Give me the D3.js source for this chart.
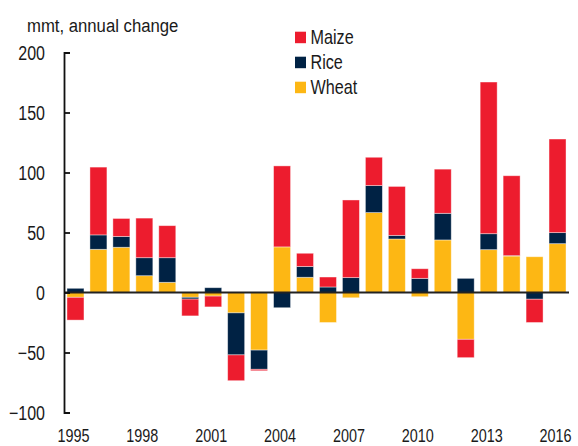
<!DOCTYPE html>
<html>
<head>
<meta charset="utf-8">
<script src="https://cdn.jsdelivr.net/npm/d3@7"></script>
<style>
  html, body { margin: 0; padding: 0; background: #fff; }
  svg text { font-family: "Liberation Sans", Arial, sans-serif; fill: #1a1a1a; }
</style>
</head>
<body>
<svg id="chart" width="578" height="446"></svg>
<script>
const years = [1995,1996,1997,1998,1999,2000,2001,2002,2003,2004,2005,2006,2007,2008,2009,2010,2011,2012,2013,2014,2015,2016];
const wheat = [-4, 36, 37.7, 14, 8.5, -4, -3, -17, -48, 38, 12.7, -25, -4.4, 66.6, 44.6, -3.5, 43.8, -39, 35.7, 30.4, 29.8, 40.7];
const rice  = [3.5, 12, 9, 15, 20.5, -1.5, 4, -35, -16, -12.7, 9, 4.6, 12.4, 22.5, 3, 11.8, 22.2, 11.8, 13.3, 0.3, -5.6, 9.2];
const maize = [-19, 56.5, 15, 33, 26.7, -14, -9, -21.5, -1.2, 67.5, 11, 8.3, 64.7, 23.6, 40.8, 8, 36.8, -15.3, 126.4, 66.6, -19.4, 78];
const seriesNames = ["Wheat", "Rice", "Maize"];
const legendOrder = ["Maize", "Rice", "Wheat"];
const colors = {Maize: "#ED1C2E", Rice: "#002244", Wheat: "#FDB714"};
const yTicks = [-100, -50, 0, 50, 100, 150, 200];
const xTickYears = [1995, 1998, 2001, 2004, 2007, 2010, 2013, 2016];
const yTitle = "mmt, annual change";

const table = years.map((y, i) => ({year: y, Wheat: wheat[i], Rice: rice[i], Maize: maize[i]}));

const svg = d3.select("#chart");
const plotLeft = 64, plotRight = 569, plotTop = 52.5, plotBottom = 412.5;
const SX = 0.8;

const x = d3.scaleBand().domain(years).range([plotLeft, plotRight]).paddingInner(0.26).paddingOuter(0.13);
const y = d3.scaleLinear().domain([-100, 200]).range([plotBottom, plotTop]);

const stack = d3.stack().keys(seriesNames).offset(d3.stackOffsetDiverging);
const stacked = stack(table);

svg.append("g").selectAll("g").data(stacked).join("g")
  .attr("fill", d => colors[d.key])
  .selectAll("rect").data(d => d).join("rect")
  .attr("x", d => x(d.data.year))
  .attr("width", x.bandwidth())
  .attr("y", d => y(Math.max(d[0], d[1])))
  .attr("height", d => Math.abs(y(d[0]) - y(d[1])))
  .attr("stroke", "#fff").attr("stroke-opacity", 0.5).attr("stroke-width", 0.8);

// zero line
svg.append("line")
  .attr("x1", plotLeft).attr("x2", plotRight)
  .attr("y1", y(0)).attr("y2", y(0))
  .attr("stroke", "#222").attr("stroke-width", 1.8);

// y axis
const yAxis = svg.append("g").attr("transform", `translate(${plotLeft},0)`)
  .call(d3.axisLeft(y).tickValues(yTicks).tickSize(-6).tickPadding(19).tickFormat(d3.format("d")));
yAxis.select(".domain").attr("stroke", "#111").attr("stroke-width", 1.8);
yAxis.selectAll(".tick line").attr("stroke", "#111").attr("stroke-width", 1.8);
yAxis.selectAll(".tick text")
  .attr("font-size", 20).attr("fill", "#1a1a1a")
  .attr("x", -19 / SX).attr("dy", "0.35em")
  .attr("transform", `scale(${SX},1)`);

// x axis labels
const xAxis = svg.append("g").attr("transform", `translate(0,442)`);
xAxis.selectAll("text").data(xTickYears).join("text")
  .attr("transform", d => `translate(${x(d) + x.bandwidth() / 2 - 2},0) scale(${SX},1)`)
  .attr("text-anchor", "middle")
  .attr("font-size", 18)
  .text(d => d);

// y title
svg.append("text")
  .attr("transform", `translate(27,31.5) scale(0.88,1)`)
  .attr("font-size", 19)
  .text(yTitle);

// legend
const lg = svg.append("g");
legendOrder.forEach((k, i) => {
  const yy = 31.7 + i * 25;
  lg.append("rect").attr("x", 295).attr("y", yy).attr("width", 11).attr("height", 11.5).attr("fill", colors[k]);
  lg.append("text")
    .attr("transform", `translate(310.5,${yy + 12.5}) scale(0.83,1)`)
    .attr("font-size", 19.5)
    .text(k);
});
</script>
</body>
</html>
